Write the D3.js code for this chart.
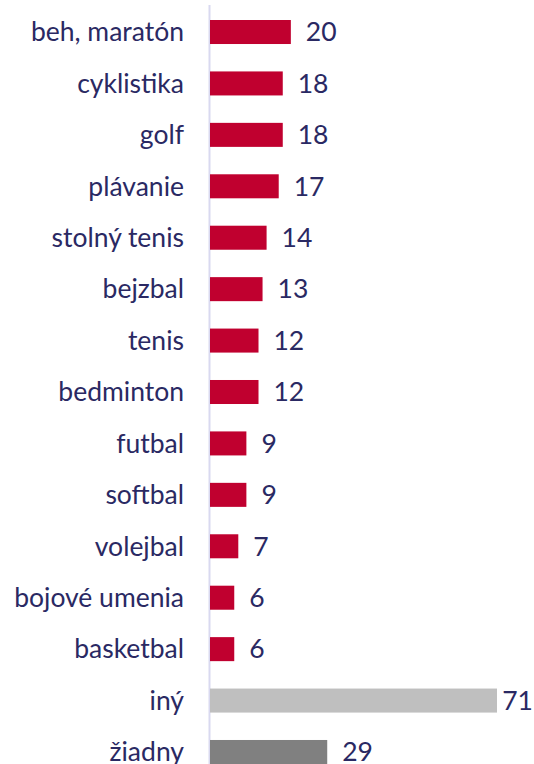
<!DOCTYPE html>
<html>
<head>
<meta charset="utf-8">
<script src="https://cdn.jsdelivr.net/npm/d3@7"></script>
<style>
    body { margin: 0; background: #fff; }
    svg { display: block; font-family: Lato, sans-serif; }
</style>
</head>
<body>
<svg id="chart" width="534" height="764"></svg>
<script>
const categories = ["beh, maratón", "cyklistika", "golf", "plávanie", "stolný tenis", "bejzbal",
    "tenis", "bedminton", "futbal", "softbal", "volejbal", "bojové umenia", "basketbal", "iný", "žiadny"];
const values = [20, 18, 18, 17, 14, 13, 12, 12, 9, 9, 7, 6, 6, 71, 29];
const barColors = ["#c0002f", "#c0002f", "#c0002f", "#c0002f", "#c0002f", "#c0002f", "#c0002f",
    "#c0002f", "#c0002f", "#c0002f", "#c0002f", "#c0002f", "#c0002f", "#bfbfbf", "#808080"];

const W = 534, H = 764;
const svg = d3.select("#chart");

const x = d3.scaleLinear().domain([0, 71]).range([210, 497]);
const y = d3.scaleBand()
    .domain(categories)
    .range([6.3, 777.7])
    .paddingInner(0.533)
    .paddingOuter(0.2665);

// axis line
svg.append("line")
    .attr("x1", 209.5).attr("x2", 209.5)
    .attr("y1", 5).attr("y2", H)
    .attr("stroke", "#d9d9f0")
    .attr("stroke-width", 2);

const data = categories.map((c, i) => ({ cat: c, val: values[i], color: barColors[i] }));

svg.selectAll("rect.bar")
    .data(data)
    .enter()
    .append("rect")
    .attr("class", "bar")
    .attr("x", x(0))
    .attr("y", d => y(d.cat))
    .attr("width", d => x(d.val) - x(0))
    .attr("height", y.bandwidth())
    .attr("fill", d => d.color);

svg.selectAll("text.cat")
    .data(data)
    .enter()
    .append("text")
    .attr("class", "cat")
    .attr("x", 184)
    .attr("y", d => y(d.cat) + y.bandwidth() / 2)
    .attr("dy", "0.35em")
    .attr("text-anchor", "end")
    .attr("font-size", 26.5)
    .attr("fill", "#2a2963")
    .text(d => d.cat);

svg.selectAll("text.val")
    .data(data)
    .enter()
    .append("text")
    .attr("class", "val")
    .attr("y", d => y(d.cat) + y.bandwidth() / 2)
    .attr("dy", "0.35em")
    .attr("font-size", 26.5)
    .attr("fill", "#2a2963")
    .text(d => d.val)
    .attr("x", function(d) {
        let w = this.getComputedTextLength();
        return Math.min(x(d.val) + 15, W - 1 - w);
    });
</script>
</body>
</html>
